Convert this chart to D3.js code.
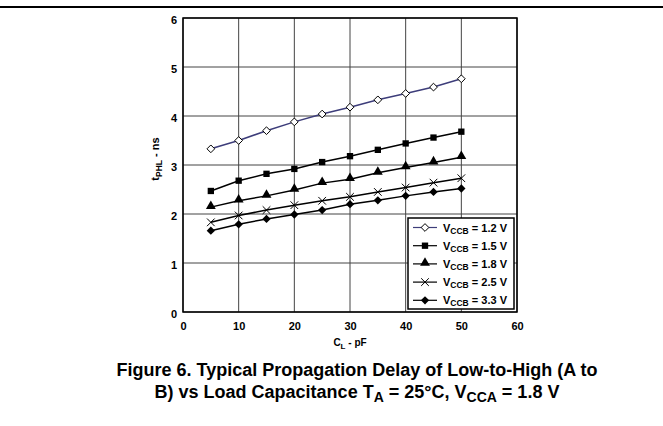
<!DOCTYPE html>
<html>
<head>
<meta charset="utf-8">
<script src="https://cdn.jsdelivr.net/npm/d3@7"></script>
<style>
  body { margin: 0; background: #fff; }
  svg text { font-family: "Liberation Sans", Arial, sans-serif; font-weight: bold; }
</style>
</head>
<body>
<div id="chart"></div>
<script>
// data
var loadCap = [5, 10, 15, 20, 25, 30, 35, 40, 45, 50];
var v12 = [3.33, 3.50, 3.70, 3.88, 4.04, 4.18, 4.33, 4.46, 4.59, 4.76];
var v15 = [2.47, 2.68, 2.82, 2.92, 3.06, 3.18, 3.31, 3.44, 3.56, 3.68];
var v18 = [2.14, 2.27, 2.37, 2.49, 2.63, 2.71, 2.84, 2.95, 3.05, 3.16];
var v25 = [1.83, 1.97, 2.08, 2.18, 2.27, 2.35, 2.45, 2.54, 2.64, 2.73];
var v33 = [1.66, 1.79, 1.90, 1.99, 2.08, 2.20, 2.28, 2.37, 2.45, 2.52];
var seriesLabels = ["1.2 V", "1.5 V", "1.8 V", "2.5 V", "3.3 V"];
var xTicks = [0, 10, 20, 30, 40, 50, 60];
var yTicks = [0, 1, 2, 3, 4, 5, 6];

var width = 663, height = 426;

var svg = d3.select("#chart")
    .append("svg")
    .attr("width", width)
    .attr("height", height);

// top rule
svg.append("line")
    .attr("x1", 0).attr("x2", width)
    .attr("y1", 7).attr("y2", 7)
    .attr("stroke", "#000")
    .attr("stroke-width", 2);

var plotLeft = 183, plotRight = 517, plotTop = 18, plotBottom = 312;

var x = d3.scaleLinear().domain([0, 60]).range([plotLeft, plotRight]);
var y = d3.scaleLinear().domain([0, 6]).range([plotBottom, plotTop]);

// grid
svg.append("g")
    .selectAll("line")
    .data(xTicks)
    .enter()
    .append("line")
    .attr("x1", d => x(d)).attr("x2", d => x(d))
    .attr("y1", plotTop).attr("y2", plotBottom)
    .attr("stroke", "#444")
    .attr("stroke-width", 1);

svg.append("g")
    .selectAll("line")
    .data(yTicks)
    .enter()
    .append("line")
    .attr("x1", plotLeft).attr("x2", plotRight)
    .attr("y1", d => y(d)).attr("y2", d => y(d))
    .attr("stroke", "#444")
    .attr("stroke-width", 1);

// frame
svg.append("rect")
    .attr("x", plotLeft).attr("y", plotTop)
    .attr("width", plotRight - plotLeft).attr("height", plotBottom - plotTop)
    .attr("fill", "none")
    .attr("stroke", "#000")
    .attr("stroke-width", 1.5);

// tick labels
var xAxis = svg.append("g")
    .attr("transform", `translate(0, ${plotBottom + 8})`)
    .call(d3.axisBottom(x).tickValues(xTicks).tickFormat(d3.format("d")).tickSize(0).tickPadding(2));
xAxis.select(".domain").remove();
xAxis.selectAll("text").style("font-size", "11px").attr("fill", "#000");

var yAxis = svg.append("g")
    .attr("transform", `translate(${plotLeft - 4}, 2)`)
    .call(d3.axisLeft(y).tickValues(yTicks).tickFormat(d3.format("d")).tickSize(0).tickPadding(2));
yAxis.select(".domain").remove();
yAxis.selectAll("text").style("font-size", "11px").attr("fill", "#000");

// axis titles
var xt = svg.append("text")
    .attr("x", x(30))
    .attr("y", 346)
    .attr("text-anchor", "middle")
    .style("font-size", "10px");
xt.append("tspan").text("C");
xt.append("tspan").attr("dy", 3).style("font-size", "8px").text("L");
xt.append("tspan").attr("dy", -3).text(" - pF");

var yt = svg.append("text")
    .attr("transform", `translate(159, 159) rotate(-90)`)
    .attr("text-anchor", "middle")
    .style("font-size", "11px");
yt.append("tspan").text("t");
yt.append("tspan").attr("dy", 3).style("font-size", "8.5px").text("PHL");
yt.append("tspan").attr("dy", -3).text(" - ns");

// series
var allSeries = [v12, v15, v18, v25, v33];
var lineColors = ["#3d3d7a", "#000", "#000", "#000", "#000"];

function marker(g, i, cx, cy) {
    if (i === 0) {
        g.append("path")
            .attr("d", d3.symbol(d3.symbolDiamond2, 38)())
            .attr("transform", `translate(${cx},${cy})`)
            .attr("fill", "#fff").attr("stroke", "#000").attr("stroke-width", 1);
    } else if (i === 1) {
        g.append("path")
            .attr("d", d3.symbol(d3.symbolSquare, 40)())
            .attr("transform", `translate(${cx},${cy})`)
            .attr("fill", "#000");
    } else if (i === 2) {
        g.append("path")
            .attr("d", d3.symbol(d3.symbolTriangle, 42)())
            .attr("transform", `translate(${cx},${cy - 1})`)
            .attr("fill", "#000");
    } else if (i === 3) {
        g.append("path")
            .attr("d", d3.symbol(d3.symbolX, 40)())
            .attr("transform", `translate(${cx},${cy})`)
            .attr("fill", "none").attr("stroke", "#000").attr("stroke-width", 1);
    } else {
        g.append("path")
            .attr("d", d3.symbol(d3.symbolDiamond2, 44)())
            .attr("transform", `translate(${cx},${cy})`)
            .attr("fill", "#000");
    }
}

var line = d3.line()
    .x((d, i) => x(loadCap[i]))
    .y(d => y(d));

allSeries.forEach(function (vals, i) {
    var g = svg.append("g");
    g.append("path")
        .attr("d", line(vals))
        .attr("fill", "none")
        .attr("stroke", lineColors[i])
        .attr("stroke-width", 1.5);
    vals.forEach(function (v, j) {
        marker(g, i, x(loadCap[j]), y(v));
    });
});

// legend
var lg = svg.append("g");
lg.append("rect")
    .attr("x", 408).attr("y", 218)
    .attr("width", 106).attr("height", 91)
    .attr("fill", "#fff")
    .attr("stroke", "#000")
    .attr("stroke-width", 1.5);

seriesLabels.forEach(function (lab, i) {
    var ry = 227.5 + i * 18.2;
    lg.append("line")
        .attr("x1", 413).attr("x2", 437)
        .attr("y1", ry).attr("y2", ry)
        .attr("stroke", lineColors[i])
        .attr("stroke-width", 1.2);
    marker(lg, i, 425, ry);
    var t = lg.append("text")
        .attr("x", 443)
        .attr("y", ry + 4)
        .style("font-size", "11px");
    t.append("tspan").text("V");
    t.append("tspan").attr("dy", 2).style("font-size", "8.5px").text("CCB");
    t.append("tspan").attr("dy", -2).text(" = " + lab);
});

// caption
svg.append("text")
    .attr("x", 357).attr("y", 376)
    .attr("text-anchor", "middle")
    .style("font-size", "18px")
    .text("Figure 6. Typical Propagation Delay of Low-to-High (A to");

var c2 = svg.append("text")
    .attr("x", 357).attr("y", 398)
    .attr("text-anchor", "middle")
    .style("font-size", "18px");
c2.append("tspan").text("B) vs Load Capacitance T");
c2.append("tspan").attr("dy", 4).style("font-size", "14px").text("A");
c2.append("tspan").attr("dy", -4).text(" = 25°C, V");
c2.append("tspan").attr("dy", 4).style("font-size", "14px").text("CCA");
c2.append("tspan").attr("dy", -4).text(" = 1.8 V");
</script>
</body>
</html>
